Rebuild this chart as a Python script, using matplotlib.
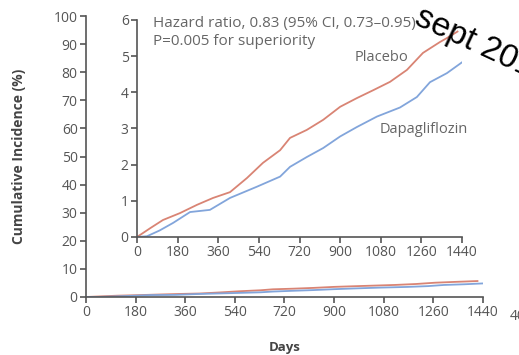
import matplotlib.pyplot as plt

# values (days, cumulative incidence in %)
placebo_days = [0, 60, 115, 190, 266, 337, 412, 487, 558, 634, 678, 752, 825, 900, 974,
                1047, 1121, 1196, 1267, 1342, 1373, 1420]
placebo_pct = [0, 0.25, 0.47, 0.66, 0.89, 1.08, 1.24, 1.63, 2.05, 2.40, 2.74, 2.96, 3.24,
               3.60, 3.84, 4.06, 4.29, 4.62, 5.09, 5.39, 5.50, 5.68]
dapa_days = [0, 44, 100, 160, 235, 323, 412, 531, 634, 678, 752, 825, 900, 974, 1063,
             1165, 1240, 1298, 1373, 1440]
dapa_pct = [0, 0.02, 0.18, 0.39, 0.69, 0.75, 1.08, 1.39, 1.67, 1.94, 2.21, 2.46, 2.78,
            3.04, 3.33, 3.58, 3.87, 4.28, 4.53, 4.83]

x_ticks = [0, 180, 360, 540, 720, 900, 1080, 1260, 1440]
outer_y_ticks = [0, 10, 20, 30, 40, 50, 60, 70, 80, 90, 100]
inset_y_ticks = [0, 1, 2, 3, 4, 5, 6]

red = '#d98474'
blue = '#82a5db'
axis_col = '#555555'
text_col = '#555555'
font = 'Open Sans'

plt.rcParams['font.family'] = [font, 'DejaVu Sans']

fig = plt.figure(figsize=(5.19, 3.55), dpi=100)


def style(ax):
    for s in ['top', 'right']:
        ax.spines[s].set_visible(False)
    for s in ['left', 'bottom']:
        ax.spines[s].set_color(axis_col)
        ax.spines[s].set_linewidth(1.2)
    ax.tick_params(colors=axis_col, labelcolor=text_col, labelsize=10,
                   length=4, width=1.2, pad=2)
    ax.set_facecolor('none')


# outer panel 0-100 %
ax = fig.add_axes([0.1657, 0.1634, 0.7649, 0.7915])
style(ax)
ax.plot(placebo_days, placebo_pct, color=red, lw=1.3)
ax.plot(dapa_days, dapa_pct, color=blue, lw=1.3)
ax.set_xlim(0, 1440)
ax.set_ylim(0, 100)
ax.set_xticks(x_ticks)
ax.set_yticks(outer_y_ticks)
ax.set_xlabel('Days', fontsize=9.5, fontweight='bold', color='#444444', labelpad=15)
ax.set_ylabel('Cumulative Incidence (%)', fontsize=10, fontweight='bold',
              color='#444444', labelpad=20)

# inset 0-6 %
ins = fig.add_axes([0.264, 0.3324, 0.6262, 0.6113])
style(ins)
ins.plot(placebo_days, placebo_pct, color=red, lw=1.3)
ins.plot(dapa_days, dapa_pct, color=blue, lw=1.3)
ins.set_xlim(0, 1440)
ins.set_ylim(0, 6)
ins.set_xticks(x_ticks)
ins.set_yticks(inset_y_ticks)

ins.text(71, 6.12, 'Hazard ratio, 0.83 (95% CI, 0.73\u20130.95)\nP=0.005 for superiority',
         fontsize=11, color='#666666', va='top', ha='left', linespacing=1.3)
ins.text(1085, 4.95, 'Placebo', fontsize=10.5, color='#666666', ha='center', va='center')
ins.text(1271, 2.96, 'Dapagliflozin', fontsize=10.5, color='#666666', ha='center', va='center')

# cut-off label of a neighbouring panel at the right edge
fig.text(510 / 519, 1 - 317 / 355, '40', fontsize=10, color=text_col, ha='left', va='center')

# date overlay, partly outside the frame
fig.text(413 / 519, 1 - 24 / 355, 'sept 2019', fontsize=24, color='black',
         family='Liberation Sans', rotation=-25, rotation_mode='anchor',
         ha='left', va='baseline')

fig.savefig('out.png', dpi=100)
